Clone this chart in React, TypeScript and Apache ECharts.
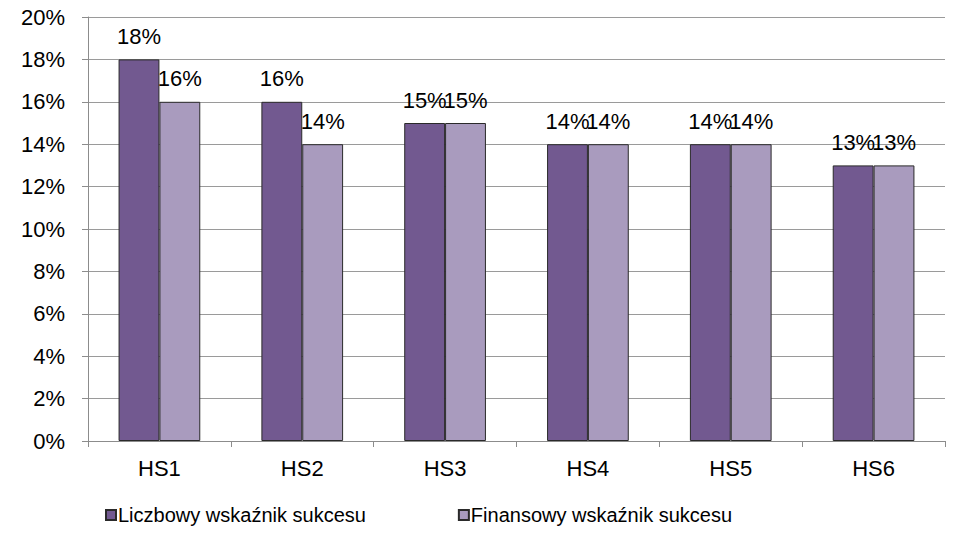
import React, { useEffect, useRef } from "react";
import * as echarts from "echarts";

const categories = ["HS1", "HS2", "HS3", "HS4", "HS5", "HS6"];
const liczbowy = [18, 16, 15, 14, 14, 13];
const finansowy = [16, 14, 15, 14, 14, 13];
const seriesNames = ["Liczbowy wskaźnik sukcesu", "Finansowy wskaźnik sukcesu"];

export default function App() {
  const ref = useRef<HTMLDivElement>(null);
  useEffect(() => {
    const chart = echarts.init(ref.current!, null, { renderer: "svg" });
    const font = "Liberation Sans, Arial, sans-serif";
    const label = {
      show: true,
      position: "top",
      distance: 12,
      formatter: "{c}%",
      color: "#000",
      fontSize: 22,
      fontFamily: font,
    };
    chart.setOption({
      animation: false,
      textStyle: { fontFamily: font },
      grid: { left: 88, right: 10, top: 17, bottom: 109, containLabel: false },
      legend: {
        bottom: 20,
        left: 100,
        itemGap: 92,
        itemWidth: 10,
        itemHeight: 10,
        icon: "rect",
        textStyle: { fontSize: 20, color: "#000", fontFamily: font, padding: [0, 0, 0, -3] },
        data: seriesNames,
      },
      xAxis: {
        type: "category",
        data: categories,
        axisLine: { lineStyle: { color: "#8c8c8c", width: 1 } },
        axisTick: { show: true, length: 6, lineStyle: { color: "#8c8c8c" } },
        axisLabel: { color: "#000", fontSize: 22, margin: 16, fontFamily: font },
      },
      yAxis: {
        type: "value",
        min: 0,
        max: 20,
        interval: 2,
        axisLine: { show: true, lineStyle: { color: "#8c8c8c", width: 1 } },
        axisTick: { show: true, length: 6, lineStyle: { color: "#8c8c8c" } },
        axisLabel: { color: "#000", fontSize: 22, margin: 23, formatter: "{value}%", fontFamily: font },
        splitLine: { lineStyle: { color: "#9a9a9a", width: 1 } },
      },
      series: [
        {
          name: seriesNames[0],
          type: "bar",
          data: liczbowy,
          barGap: "0%",
          barCategoryGap: "42.8%",
          itemStyle: { color: "#725990", borderColor: "#2a2a2a", borderWidth: 1 },
          label,
        },
        {
          name: seriesNames[1],
          type: "bar",
          data: finansowy,
          barGap: "0%",
          barCategoryGap: "42.8%",
          itemStyle: { color: "#A99BBE", borderColor: "#2a2a2a", borderWidth: 1 },
          label,
        },
      ],
    });
    return () => chart.dispose();
  }, []);
  return <div ref={ref} style={{ width: 955, height: 550, position: "absolute", left: 0, top: 0 }} />;
}
